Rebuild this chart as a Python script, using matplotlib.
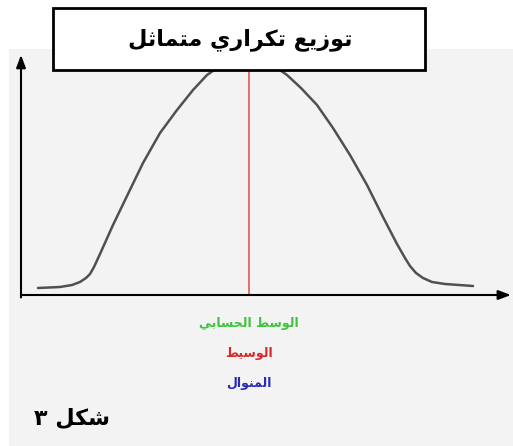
import matplotlib
matplotlib.use("Agg")
import matplotlib.pyplot as plt
from matplotlib.patches import Rectangle

# curve (x along the axis, frequency height), origin at the axes corner
curve_x = [17, 39, 51, 59, 65, 69, 73, 79, 92, 106, 122, 139, 156, 172, 186, 206, 226,
           246, 266, 280, 296, 312, 329, 346, 362, 376, 384, 389, 395, 402, 411, 424, 452]
curve_y = [7, 8, 10, 13, 17, 21, 28, 41, 70, 99, 132, 162, 185, 205, 220, 234, 239,
           234, 220, 207, 190, 167, 140, 110, 78, 51, 37, 29, 22, 17, 13, 11, 9]
center_x = 228  # mean = median = mode

title = "توزيع تكراري متماثل"
labels = ["الوسط الحسابي", "الوسيط", "المنوال"]
label_colors = ["#3cc43c", "#d42a2a", "#2a2ab4"]
fig_label = "شكل ٣"

# minimal Arabic shaping: (isolated, final, initial, medial)
FORMS = {
    "ا": (0xFE8D, 0xFE8E, None, None), "ب": (0xFE8F, 0xFE90, 0xFE91, 0xFE92),
    "ت": (0xFE95, 0xFE96, 0xFE97, 0xFE98), "ث": (0xFE99, 0xFE9A, 0xFE9B, 0xFE9C),
    "ح": (0xFEA1, 0xFEA2, 0xFEA3, 0xFEA4), "ر": (0xFEAD, 0xFEAE, None, None),
    "ز": (0xFEAF, 0xFEB0, None, None), "س": (0xFEB1, 0xFEB2, 0xFEB3, 0xFEB4),
    "ش": (0xFEB5, 0xFEB6, 0xFEB7, 0xFEB8), "ط": (0xFEC1, 0xFEC2, 0xFEC3, 0xFEC4),
    "ع": (0xFEC9, 0xFECA, 0xFECB, 0xFECC), "ك": (0xFED9, 0xFEDA, 0xFEDB, 0xFEDC),
    "ل": (0xFEDD, 0xFEDE, 0xFEDF, 0xFEE0), "م": (0xFEE1, 0xFEE2, 0xFEE3, 0xFEE4),
    "ن": (0xFEE5, 0xFEE6, 0xFEE7, 0xFEE8), "و": (0xFEED, 0xFEEE, None, None),
    "ي": (0xFEF1, 0xFEF2, 0xFEF3, 0xFEF4),
}


def shape(text):
    out = []
    for i, ch in enumerate(text):
        if ch not in FORMS:
            out.append(ch)
            continue
        prev = text[i - 1] if i > 0 else ""
        nxt = text[i + 1] if i + 1 < len(text) else ""
        jp = prev in FORMS and FORMS[prev][2] is not None
        jn = FORMS[ch][2] is not None and nxt in FORMS
        iso, fin, ini, med = FORMS[ch]
        if jp and jn:
            out.append(chr(med))
        elif jp:
            out.append(chr(fin))
        elif jn:
            out.append(chr(ini))
        else:
            out.append(chr(iso))
    return "".join(out)[::-1]


W, H = 513, 446
fig = plt.figure(figsize=(W / 100, H / 100), dpi=100)
fig.patch.set_facecolor("white")

# textured paper area
fig.add_artist(Rectangle((9 / W, 0), 1 - 9 / W, 1 - 49 / H, transform=fig.transFigure,
                         facecolor="#f3f3f3", edgecolor="none", zorder=-1))

ax = fig.add_axes([21 / W, (H - 295) / H, (511 - 21) / W, (295 - 50) / H])
ax.set_xlim(0, 490)
ax.set_ylim(0, 245)
ax.patch.set_visible(False)
for s in ax.spines.values():
    s.set_visible(False)
ax.set_xticks([])
ax.set_yticks([])

ax.plot(curve_x, curve_y, color="#505050", lw=1.8, solid_capstyle="round",
        solid_joinstyle="round")
ax.plot([center_x, center_x], [0, 230], color="#e05a5a", lw=1.2)

arrow = dict(arrowstyle="-|>,head_length=0.75,head_width=0.28", color="black", lw=1.5,
             shrinkA=0, shrinkB=0)
ax.annotate("", xy=(0, 0.98), xytext=(0, -0.01), xycoords="axes fraction", arrowprops=arrow)
ax.annotate("", xy=(1.0, 0), xytext=(0, 0), xycoords="axes fraction", arrowprops=arrow)

# overlay in pixel units for the title box and captions
deco = fig.add_axes([0, 0, 1, 1], zorder=2)
deco.set_xlim(0, W)
deco.set_ylim(H, 0)
deco.axis("off")
deco.patch.set_visible(False)

deco.add_patch(Rectangle((53, 8), 372, 62, facecolor="white", edgecolor="black", lw=2))
deco.text(240, 40, shape(title), ha="center", va="center", fontsize=16,
          fontweight="bold", family="DejaVu Sans")

for i, (lab, col) in enumerate(zip(labels, label_colors)):
    deco.text(249, 323 + 30 * i, shape(lab), ha="center", va="center", fontsize=9,
              fontweight="bold", color=col, family="DejaVu Sans")

deco.text(72, 418, shape(fig_label), ha="center", va="center", fontsize=16,
          fontweight="bold", family="DejaVu Sans")

fig.savefig("out.png", dpi=100)
